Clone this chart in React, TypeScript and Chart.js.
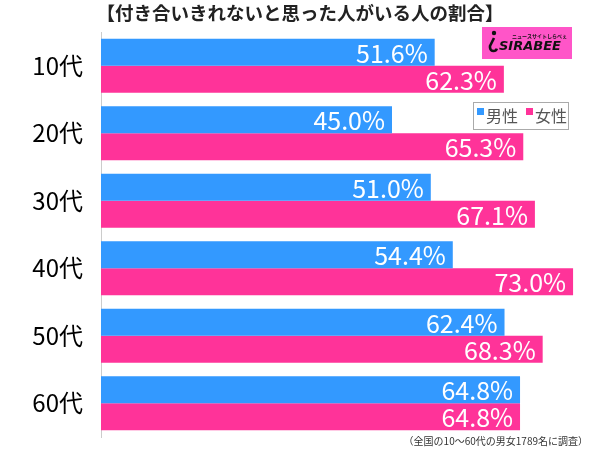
import React, { useEffect, useRef } from "react";
import { Chart, registerables } from "chart.js";

Chart.register(...registerables);

const categories = ["10代", "20代", "30代", "40代", "50代", "60代"];
const maleValues = [51.6, 45.0, 51.0, 54.4, 62.4, 64.8];
const femaleValues = [62.3, 65.3, 67.1, 73.0, 68.3, 64.8];
const seriesNames = ["男性", "女性"];
const titleText = "【付き合いきれないと思った人がいる人の割合】";
const footnoteText = "（全国の10～60代の男女1789名に調査）";

const BLUE = "#3399ff";
const PINK = "#ff3399";
const FONT = '"Noto Sans CJK JP", "Noto Sans", sans-serif';

const decorPlugin = {
  id: "decor",
  afterDatasetsDraw(chart: any) {
    const ctx = chart.ctx as CanvasRenderingContext2D;
    chart.data.datasets.forEach((ds: any, di: number) => {
      const meta = chart.getDatasetMeta(di);
      meta.data.forEach((bar: any, i: number) => {
        const v = ds.data[i] as number;
        ctx.save();
        ctx.font = `25px ${FONT}`;
        ctx.fillStyle = "#ffffff";
        ctx.textAlign = "right";
        ctx.textBaseline = "middle";
        ctx.fillText(v.toFixed(1) + "%", bar.x - 7, bar.y + 1);
        ctx.restore();
      });
    });
  },
  afterDraw(chart: any) {
    const ctx = chart.ctx as CanvasRenderingContext2D;
    ctx.save();
    // title
    ctx.font = `bold 18.5px ${FONT}`;
    ctx.fillStyle = "#222";
    ctx.textAlign = "center";
    ctx.textBaseline = "middle";
    ctx.fillText(titleText, 300, 13);

    // footnote
    ctx.font = `10px ${FONT}`;
    ctx.fillStyle = "#333";
    ctx.textAlign = "right";
    ctx.fillText(footnoteText, 588, 441);

    // legend
    ctx.fillStyle = "#fff";
    ctx.fillRect(473, 102, 95, 27);
    ctx.strokeStyle = "#aaa";
    ctx.lineWidth = 1;
    ctx.strokeRect(473.5, 102.5, 95, 27);
    ctx.fillStyle = BLUE;
    ctx.fillRect(477, 108, 7, 7);
    ctx.fillStyle = PINK;
    ctx.fillRect(526, 108, 7, 7);
    ctx.font = `16px ${FONT}`;
    ctx.fillStyle = "#555";
    ctx.textAlign = "left";
    ctx.fillText(seriesNames[0], 486, 116);
    ctx.fillText(seriesNames[1], 535, 116);

    // logo
    ctx.fillStyle = "#ff55c8";
    ctx.fillRect(482, 27, 90, 32);
    ctx.fillStyle = "#111";
    ctx.font = `bold italic 13px "DejaVu Sans", sans-serif`;
    ctx.textAlign = "left";
    ctx.textBaseline = "alphabetic";
    ctx.fillText("SIRABEE", 499, 50);
    ctx.font = `bold 5px ${FONT}`;
    ctx.fillText("ニュースサイトしらべぇ", 512, 38);
    ctx.beginPath();
    ctx.arc(494, 33, 2.2, 0, Math.PI * 2);
    ctx.fill();
    ctx.lineWidth = 2.6;
    ctx.strokeStyle = "#111";
    ctx.beginPath();
    ctx.moveTo(494, 38);
    ctx.lineTo(490, 46);
    ctx.arc(493.5, 47.5, 3.5, Math.PI, Math.PI * 0.1, true);
    ctx.stroke();
    ctx.restore();
  },
};

export default function App() {
  const ref = useRef<HTMLCanvasElement | null>(null);
  useEffect(() => {
    if (!ref.current) return;
    const chart = new Chart(ref.current, {
      type: "bar",
      data: {
        labels: categories,
        datasets: [
          {
            label: seriesNames[0],
            data: maleValues,
            backgroundColor: BLUE,
            categoryPercentage: 0.8,
            barPercentage: 1.0,
          },
          {
            label: seriesNames[1],
            data: femaleValues,
            backgroundColor: PINK,
            categoryPercentage: 0.8,
            barPercentage: 1.0,
          },
        ],
      },
      options: {
        indexAxis: "y",
        responsive: false,
        animation: false,
        layout: { padding: { left: 0, right: 14, top: 32, bottom: 12 } },
        plugins: {
          legend: { display: false },
          tooltip: { enabled: false },
          title: { display: false },
        },
        scales: {
          x: { display: false, min: 0, max: 75 },
          y: {
            afterFit: (scale: any) => {
              scale.width = 101;
              scale.paddingTop = 0;
              scale.paddingBottom = 0;
            },
            grid: { display: false, drawTicks: false },
            border: { display: true, color: "#cccccc", width: 1 },
            ticks: {
              padding: 18,
              color: "#000",
              font: { size: 24, family: FONT },
            },
          },
        },
      },
      plugins: [decorPlugin],
    } as any);
    return () => chart.destroy();
  }, []);
  return (
    <div style={{ position: "absolute", left: 0, top: 0, width: 600, height: 449, background: "#fff" }}>
      <canvas ref={ref} width={600} height={449} style={{ width: 600, height: 449 }} />
    </div>
  );
}
